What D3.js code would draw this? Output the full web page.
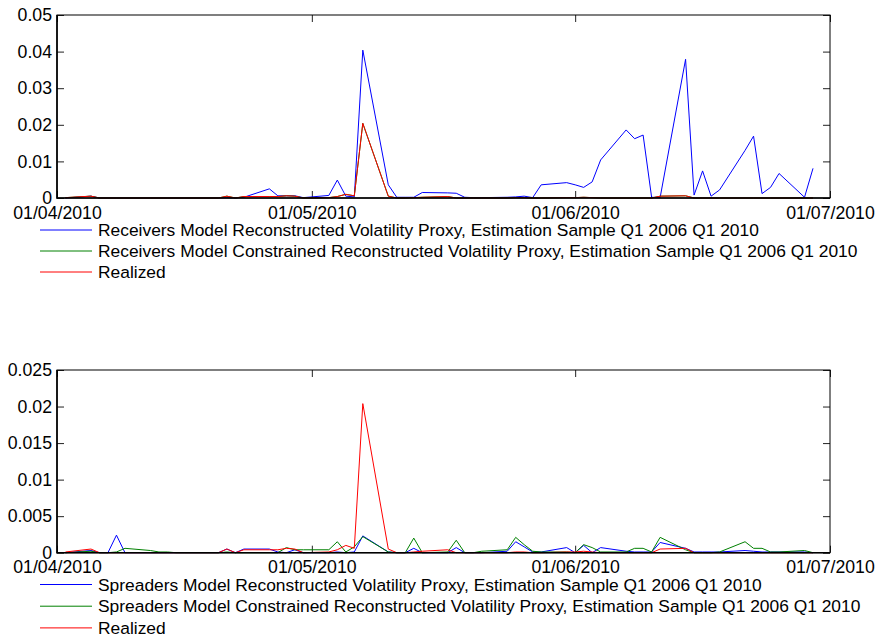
<!DOCTYPE html>
<html>
<head>
<meta charset="utf-8">
<script src="https://cdn.jsdelivr.net/npm/d3@7"></script>
<style>
  body { margin: 0; background: #fff; }
  svg { display: block; }
  text { font-family: "Liberation Sans", Arial, Helvetica, sans-serif; font-size: 17.7px; fill: #000; }
  text.legend-label { font-size: 17.4px; }
</style>
</head>
<body>
<svg id="chart" width="875" height="637"></svg>
<script>
// Observation dates (business days, Q2 2010)
const dates = [
  "2010-04-02","2010-04-05","2010-04-06","2010-04-07","2010-04-08","2010-04-09",
  "2010-04-12","2010-04-13","2010-04-14","2010-04-15","2010-04-16",
  "2010-04-19","2010-04-20","2010-04-21","2010-04-22","2010-04-23",
  "2010-04-26","2010-04-27","2010-04-28","2010-04-29","2010-04-30",
  "2010-05-03","2010-05-04","2010-05-05","2010-05-06","2010-05-07",
  "2010-05-10","2010-05-11","2010-05-12","2010-05-13","2010-05-14",
  "2010-05-17","2010-05-18","2010-05-19","2010-05-20","2010-05-21",
  "2010-05-24","2010-05-25","2010-05-26","2010-05-27","2010-05-28",
  "2010-05-31","2010-06-01","2010-06-02","2010-06-03","2010-06-04",
  "2010-06-07","2010-06-08","2010-06-09","2010-06-10","2010-06-11",
  "2010-06-14","2010-06-15","2010-06-16","2010-06-17","2010-06-18",
  "2010-06-21","2010-06-22","2010-06-23","2010-06-24","2010-06-25",
  "2010-06-28","2010-06-29"
];

// Receivers model reconstructed volatility proxy
const receiversProxy = [
  0, 0.0005, 0, 0, 0, 0,
  0, 0, 0, 0, 0,
  0, 0, 0.0001, 0, 0.0002,
  0.0025, 0.0006, 0.0006, 0.0006, 0.0001,
  0.0007, 0.0049, 0.0005, 0.0003, 0.0404,
  0.0036, 0.0002, 0.0002, 0.0002, 0.0015,
  0.0014, 0.0013, 0.0002, 0.0001, 0.0001,
  0.0002, 0.0003, 0.0005, 0.0001, 0.0036,
  0.0042, 0.0036, 0.0029, 0.0044, 0.0104,
  0.0186, 0.0162, 0.0172, 0.0002, 0.0001,
  0.0379, 0.0008, 0.0074, 0.0005, 0.0022,
  0.0130, 0.0169, 0.0012, 0.0029, 0.0067,
  0.0002, 0.0081
];

// Receivers model constrained reconstructed volatility proxy
const receiversConstrained = [
  0.0001, 0.0005, 0, 0, 0, 0,
  0, 0, 0, 0, 0,
  0, 0, 0.0005, 0, 0.0004,
  0.0004, 0.0004, 0.0006, 0.0005, 0,
  0.0001, 0.0004, 0.0010, 0.0006, 0.0204,
  0.0005, 0, 0, 0.0001, 0.0002,
  0.0004, 0, 0, 0, 0,
  0, 0.0001, 0.0001, 0, 0,
  0.0001, 0.0001, 0.0002, 0.0001, 0,
  0, 0, 0, 0, 0.0005,
  0.0006, 0, 0, 0, 0,
  0, 0, 0, 0, 0,
  0, 0
];

// Realized volatility
const realized = [
  0.0001, 0.0005, 0, 0, 0, 0,
  0, 0, 0, 0, 0,
  0, 0, 0.0005, 0, 0.0004,
  0.0004, 0.0004, 0.0006, 0.0005, 0,
  0.0001, 0.0004, 0.0010, 0.0006, 0.0204,
  0.0005, 0, 0, 0.0001, 0.0002,
  0.0004, 0, 0, 0, 0,
  0, 0.0001, 0.0001, 0, 0,
  0.0001, 0.0001, 0.0002, 0.0001, 0,
  0, 0, 0, 0, 0.0005,
  0.0006, 0, 0, 0, 0,
  0, 0, 0, 0, 0,
  0, 0
];

// Spreaders model reconstructed volatility proxy
const spreadersProxy = [
  0, 0.0003, 0, 0, 0.0024, 0,
  0, 0, 0, 0, 0,
  0, 0, 0.0005, 0, 0.0005,
  0.0005, 0.0001, 0, 0.0004, 0,
  0, 0.0001, 0, 0.0001, 0.0023,
  0.0001, 0, 0, 0.0006, 0,
  0, 0.0007, 0, 0, 0,
  0.0002, 0.0015, 0.0008, 0.0001, 0.0001,
  0.0007, 0, 0.0010, 0, 0.0007,
  0.0002, 0.0001, 0.0001, 0.0001, 0.0014,
  0.0006, 0.0001, 0.0001, 0.0001, 0.0001,
  0.0003, 0.0002, 0.0001, 0.0001, 0.0001,
  0.0001, 0
];

// Spreaders model constrained reconstructed volatility proxy
const spreadersConstrained = [
  0, 0.0002, 0, 0, 0.0001, 0.0006,
  0.0003, 0.0001, 0.0001, 0, 0,
  0, 0, 0.0001, 0, 0,
  0, 0, 0.0007, 0.0004, 0.0004,
  0.0004, 0.0015, 0.0001, 0.0008, 0.0022,
  0.0001, 0, 0, 0.0020, 0,
  0.0001, 0.0017, 0, 0, 0.0002,
  0.0004, 0.0021, 0.0011, 0.0002, 0.0001,
  0.0001, 0, 0.0011, 0.0007, 0.0001,
  0.0001, 0.0006, 0.0006, 0.0001, 0.0021,
  0.0004, 0, 0, 0, 0.0001,
  0.0015, 0.0006, 0.0006, 0.0001, 0.0001,
  0.0003, 0
];

// Axis ticks and labels
const xTickDates = ["2010-04-01", "2010-05-01", "2010-06-01", "2010-07-01"];
const xTickLabels = ["01/04/2010", "01/05/2010", "01/06/2010", "01/07/2010"];
const yTicksTop = [0, 0.01, 0.02, 0.03, 0.04, 0.05];
const yTickLabelsTop = ["0", "0.01", "0.02", "0.03", "0.04", "0.05"];
const yTicksBottom = [0, 0.005, 0.01, 0.015, 0.02, 0.025];
const yTickLabelsBottom = ["0", "0.005", "0.01", "0.015", "0.02", "0.025"];

const legendTop = [
  "Receivers Model Reconstructed Volatility Proxy, Estimation Sample Q1 2006 Q1 2010",
  "Receivers Model Constrained Reconstructed Volatility Proxy, Estimation Sample Q1 2006 Q1 2010",
  "Realized"
];
const legendBottom = [
  "Spreaders Model Reconstructed Volatility Proxy, Estimation Sample Q1 2006 Q1 2010",
  "Spreaders Model Constrained Reconstructed Volatility Proxy, Estimation Sample Q1 2006 Q1 2010",
  "Realized"
];
const seriesColors = ["#0000ff", "#008000", "#ff0000"];

const parse = d3.utcParse("%Y-%m-%d");
const svg = d3.select("#chart");

function panel(opts) {
  const { top, bottom, yMax, yTicks, yLabels, series, legend, legendY, legendGap } = opts;
  const left = 57, right = 830, tick = 7;

  const x = d3.scaleUtc()
    .domain([parse(xTickDates[0]), parse(xTickDates[xTickDates.length - 1])])
    .range([left, right]);
  const y = d3.scaleLinear().domain([0, yMax]).range([bottom, top]);

  const g = svg.append("g");

  // plot area background
  g.append("rect")
    .attr("x", left).attr("y", top)
    .attr("width", right - left).attr("height", bottom - top)
    .attr("fill", "#fff");

  const xt = xTickDates.map(parse);
  const fmtX = d => xTickLabels[xt.findIndex(t => +t === +d)];
  const fmtY = d => yLabels[yTicks.indexOf(d)];

  const styleAxis = sel => {
    sel.select(".domain").remove();
    sel.selectAll("line").attr("stroke", "#222");
    sel.selectAll("text").attr("font-size", null).attr("font-family", null);
  };

  g.append("g").attr("transform", `translate(0,${bottom})`)
    .call(d3.axisBottom(x).tickValues(xt).tickFormat(fmtX).tickSize(-tick).tickPadding(8.2))
    .call(styleAxis);
  g.append("g").attr("transform", `translate(0,${top})`)
    .call(d3.axisTop(x).tickValues(xt).tickFormat("").tickSize(-tick))
    .call(styleAxis);
  g.append("g").attr("transform", `translate(${left},0)`)
    .call(d3.axisLeft(y).tickValues(yTicks).tickFormat(fmtY).tickSize(-tick).tickPadding(5))
    .call(styleAxis);
  g.append("g").attr("transform", `translate(${right},0)`)
    .call(d3.axisRight(y).tickValues(yTicks).tickFormat("").tickSize(-tick))
    .call(styleAxis);

  // series lines
  const line = d3.line()
    .x((d, i) => x(parse(dates[i])))
    .y(d => y(d));
  series.forEach((vals, k) => {
    g.append("path")
      .datum(vals)
      .attr("d", line)
      .attr("fill", "none")
      .attr("stroke", seriesColors[k])
      .attr("stroke-width", 1);
  });

  // frame drawn over the lines
  g.append("rect")
    .attr("x", left).attr("y", top)
    .attr("width", right - left).attr("height", bottom - top)
    .attr("fill", "none").attr("stroke", "#000").attr("stroke-width", 1);
  g.append("path")
    .attr("d", `M${left},${top}V${bottom}H${right}`)
    .attr("fill", "none").attr("stroke", "#000").attr("stroke-width", 1.6);

  // legend
  const lg = g.append("g");
  legend.forEach((label, k) => {
    const ly = legendY + k * legendGap;
    lg.append("line")
      .attr("x1", 40).attr("x2", 92).attr("y1", ly).attr("y2", ly)
      .attr("stroke", seriesColors[k]).attr("stroke-width", 1);
    lg.append("text")
      .attr("class", "legend-label")
      .attr("x", 98).attr("y", ly).attr("dy", "0.36em")
      .text(label);
  });
}

panel({
  top: 15, bottom: 198, yMax: 0.05,
  yTicks: yTicksTop, yLabels: yTickLabelsTop,
  series: [receiversProxy, receiversConstrained, realized],
  legend: legendTop, legendY: 230, legendGap: 21
});

panel({
  top: 370, bottom: 552.7, yMax: 0.025,
  yTicks: yTicksBottom, yLabels: yTickLabelsBottom,
  series: [spreadersProxy, spreadersConstrained, realized],
  legend: legendBottom, legendY: 584.5, legendGap: 21.7
});
</script>
</body>
</html>
